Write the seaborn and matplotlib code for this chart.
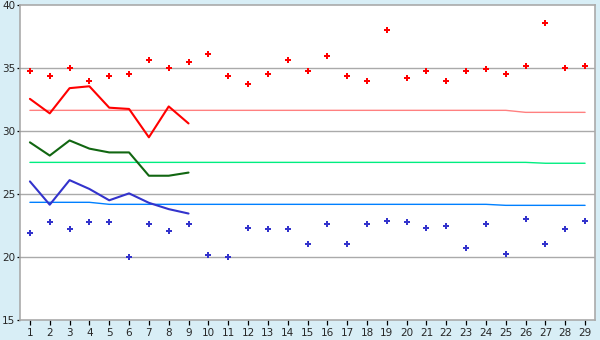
import matplotlib
matplotlib.use("Agg")
import matplotlib.pyplot as plt
import seaborn as sns
import pandas as pd

# ---- data ----
days = [1, 2, 3, 4, 5, 6, 7, 8, 9, 10, 11, 12, 13, 14, 15, 16, 17, 18, 19, 20,
        21, 22, 23, 24, 25, 26, 27, 28, 29]
high_pts = [34.8, 34.4, 35.0, 34.0, 34.4, 34.5, 35.6, 35.0, 35.45, 36.1,
            34.4, 33.7, 34.5, 35.6, 34.75, 35.95, 34.4, 34.0, 38.0, 34.2,
            34.75, 33.95, 34.8, 34.95, 34.5, 35.15, 38.6, 35.0, 35.15]
low_pts = [21.9, 22.75, 22.2, 22.75, 22.75, 20.0, 22.6, 22.05, 22.6, 20.15,
           20.0, 22.3, 22.2, 22.2, 21.0, 22.6, 21.0, 22.6, 22.85, 22.75,
           22.3, 22.45, 20.7, 22.6, 20.2, 23.0, 21.0, 22.2, 22.85]
line_days = [1, 2, 3, 4, 5, 6, 7, 8, 9]
high_line = [32.55, 31.4, 33.4, 33.55, 31.85, 31.75, 29.5, 31.95, 30.6]
mid_line = [29.1, 28.05, 29.25, 28.6, 28.3, 28.3, 26.45, 26.45, 26.7]
low_line = [26.0, 24.15, 26.1, 25.4, 24.5, 25.05, 24.3, 23.8, 23.45]
high_ref = [31.64, 31.64, 31.64, 31.64, 31.64, 31.64, 31.64, 31.64, 31.64, 31.64,
            31.64, 31.64, 31.64, 31.64, 31.64, 31.64, 31.64, 31.64, 31.64, 31.64,
            31.64, 31.64, 31.64, 31.64, 31.64, 31.48, 31.48, 31.48, 31.48]
mid_ref = [27.51, 27.51, 27.51, 27.51, 27.51, 27.51, 27.51, 27.51, 27.51, 27.51,
           27.51, 27.51, 27.51, 27.51, 27.51, 27.51, 27.51, 27.51, 27.51, 27.51,
           27.51, 27.51, 27.51, 27.51, 27.51, 27.51, 27.44, 27.44, 27.44]
low_ref = [24.34, 24.34, 24.34, 24.34, 24.18, 24.18, 24.18, 24.18, 24.18, 24.18,
           24.18, 24.18, 24.18, 24.18, 24.18, 24.18, 24.18, 24.18, 24.18, 24.18,
           24.18, 24.18, 24.18, 24.18, 24.10, 24.10, 24.10, 24.10, 24.10]
y_ticks = [15, 20, 25, 30, 35, 40]

pts = pd.DataFrame({"day": days, "high": high_pts, "low": low_pts,
                    "high_ref": high_ref, "mid_ref": mid_ref, "low_ref": low_ref})
lines = pd.DataFrame({"day": line_days, "high": high_line,
                      "mid": mid_line, "low": low_line})

sns.set_style("white")
plt.rcParams["font.family"] = ["DejaVu Sans"]

fig = plt.figure(figsize=(6, 3.4), dpi=100, facecolor="#D8EEF6")
ax = fig.add_axes([20 / 600, 1 - 320 / 340, 575 / 600, 315 / 340])
ax.set_facecolor("white")

# grid lines
for v in y_ticks[1:-1]:
    ax.axhline(v, color="#AAAAAA", lw=1.0, zorder=0)

# reference lines
sns.lineplot(data=pts, x="day", y="high_ref", ax=ax, color="#FF8080", lw=1.0, zorder=2)
sns.lineplot(data=pts, x="day", y="mid_ref", ax=ax, color="#00EE80", lw=1.0, zorder=2)
sns.lineplot(data=pts, x="day", y="low_ref", ax=ax, color="#0080FF", lw=1.0, zorder=2)

# main lines
sns.lineplot(data=lines, x="day", y="high", ax=ax, color="#FF0000", lw=1.5, zorder=3)
sns.lineplot(data=lines, x="day", y="mid", ax=ax, color="#116611", lw=1.5, zorder=3)
sns.lineplot(data=lines, x="day", y="low", ax=ax, color="#3333CC", lw=1.5, zorder=3)

# points
sns.scatterplot(data=pts, x="day", y="high", ax=ax, color="#FF0000", marker="P",
                s=16, linewidth=0, zorder=4)
sns.scatterplot(data=pts, x="day", y="low", ax=ax, color="#3333CC", marker="P",
                s=14, linewidth=0, zorder=4)

ax.set_xlim(0.5, 29.5)
ax.set_ylim(15, 40)
ax.set_xticks(days)
ax.set_xticklabels([str(d) for d in days])
ax.set_yticks(y_ticks)
ax.set_yticklabels([str(v) for v in y_ticks])
ax.set_xlabel("")
ax.set_ylabel("")
for s in ax.spines.values():
    s.set_color("#AAAAAA")
    s.set_linewidth(1.2)
ax.tick_params(axis="x", direction="out", length=3.5, width=0.9, color="black",
               labelsize=7.5, pad=2, bottom=True)
ax.tick_params(axis="y", direction="out", length=2.5, width=0.9, color="black",
               labelsize=7.5, pad=1, left=True)

fig.savefig("out.png", dpi=100, facecolor=fig.get_facecolor())
